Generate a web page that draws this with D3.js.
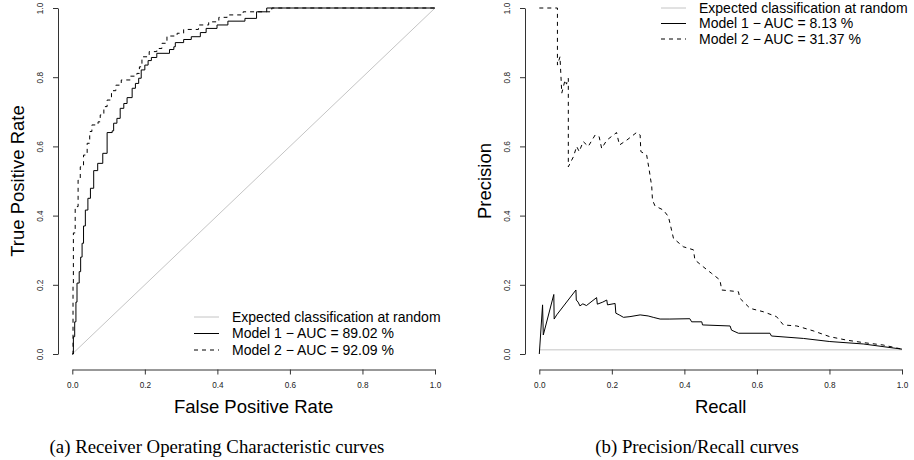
<!DOCTYPE html>
<html><head><meta charset="utf-8">
<script src="https://cdn.jsdelivr.net/npm/d3@7"></script>
<style>body{margin:0;background:#fff} svg{display:block} text{font-family:"Liberation Sans",Arial,Helvetica,sans-serif}</style>
</head><body><svg id="c" width="914" height="460"></svg>
<script>
// ---------- data ----------
const tickValues = [0, 0.2, 0.4, 0.6, 0.8, 1.0];

// ROC, Model 1 (false positive rate, true positive rate)
const rocFpr1 = [0,0.003,0.0066,0.010,0.013,0.019,0.023,0.027,0.031,0.036,0.043,0.05,0.059,0.07,0.084,0.096,0.110,0.114,0.123,0.132,0.142,0.151,0.165,0.174,0.183,0.19,0.2,0.209,0.218,0.233,0.268,0.28,0.284,0.307,0.328,0.353,0.369,0.399,0.429,0.476,0.508,0.536,1];
const rocTpr1 = [0,0.05,0.093,0.15,0.205,0.238,0.28,0.32,0.37,0.416,0.45,0.479,0.53,0.551,0.58,0.64,0.645,0.667,0.681,0.71,0.724,0.741,0.768,0.782,0.797,0.821,0.835,0.848,0.857,0.869,0.88,0.888,0.9,0.909,0.917,0.929,0.941,0.951,0.962,0.97,0.989,1.0,1];
// ROC, Model 2
const rocFpr2 = [0,0.002,0.003,0.008,0.016,0.022,0.031,0.041,0.048,0.054,0.071,0.077,0.087,0.096,0.108,0.12,0.135,0.16,0.178,0.185,0.192,0.212,0.233,0.247,0.261,0.289,0.307,0.348,0.376,0.404,0.427,0.471,0.545,0.55,1];
const rocTpr2 = [0,0.2,0.35,0.426,0.503,0.541,0.575,0.609,0.643,0.662,0.671,0.691,0.715,0.734,0.761,0.777,0.792,0.803,0.811,0.83,0.859,0.874,0.883,0.898,0.919,0.927,0.938,0.951,0.96,0.973,0.98,0.989,0.994,1,1];

// Precision/Recall, Model 1 (recall, precision)
const prRec1 = [0,0.009,0.011,0.04,0.041,0.048,0.101,0.102,0.107,0.112,0.12,0.13,0.158,0.16,0.175,0.186,0.188,0.209,0.211,0.222,0.232,0.25,0.278,0.3,0.314,0.333,0.36,0.415,0.42,0.448,0.45,0.526,0.53,0.549,0.636,0.64,0.728,0.801,0.893,1];
const prPrec1 = [0,0.142,0.055,0.172,0.101,0.113,0.185,0.156,0.150,0.139,0.145,0.14,0.163,0.144,0.15,0.156,0.142,0.146,0.118,0.112,0.106,0.108,0.113,0.11,0.106,0.101,0.101,0.102,0.093,0.093,0.084,0.081,0.069,0.06,0.06,0.052,0.045,0.036,0.029,0.014];
// Precision/Recall, Model 2
const prRec2 = [0,0.05,0.05,0.057,0.062,0.071,0.075,0.08,0.08,0.094,0.103,0.11,0.121,0.135,0.154,0.165,0.172,0.186,0.213,0.221,0.241,0.268,0.278,0.28,0.296,0.303,0.31,0.312,0.319,0.342,0.356,0.37,0.397,0.425,0.429,0.452,0.475,0.498,0.503,0.549,0.553,0.581,0.618,0.654,0.673,0.71,0.755,0.801,0.848,0.893,0.948,1];
const prPrec2 = [1,1,0.835,0.859,0.754,0.792,0.78,0.797,0.541,0.57,0.6,0.585,0.614,0.6,0.633,0.628,0.594,0.618,0.64,0.604,0.618,0.64,0.633,0.585,0.575,0.532,0.484,0.445,0.428,0.416,0.397,0.334,0.31,0.301,0.272,0.252,0.233,0.214,0.185,0.18,0.161,0.132,0.122,0.108,0.084,0.081,0.067,0.05,0.04,0.033,0.026,0.014];
const prRandom = 0.012;

const rocLegend = ["Expected classification at random", "Model 1 \u2212 AUC = 89.02 %", "Model 2 \u2212 AUC = 92.09 %"];
const prLegend  = ["Expected classification at random", "Model 1 \u2212 AUC = 8.13 %", "Model 2 \u2212 AUC = 31.37 %"];
const captions = ["(a) Receiver Operating Characteristic curves", "(b) Precision/Recall curves"];
const axisTitles = [["False Positive Rate", "True Positive Rate"], ["Recall", "Precision"]];

// ---------- drawing ----------
const svg = d3.select("#c");
const zip = (a, b) => a.map((v, i) => [v, b[i]]);
const GRAY = "#c4c4c4";

function panel(cfg) {
  const x = d3.scaleLinear().domain([0, 1]).range([cfg.x0, cfg.x1]);
  const y = d3.scaleLinear().domain([0, 1]).range([354, 8]);
  const g = svg.append("g");

  // x axis
  const gx = g.append("g").attr("transform", `translate(0,369.5)`)
    .call(d3.axisBottom(x).tickValues(tickValues).tickSize(5).tickSizeOuter(0).tickFormat(d3.format(".1f")));
  gx.selectAll("text").attr("font-size", 8.2).attr("y", 13).attr("dy", "0.71em").attr("fill", "#222");
  // y axis
  const gy = g.append("g").attr("transform", `translate(${cfg.ax},0)`)
    .call(d3.axisLeft(y).tickValues(tickValues).tickSize(5).tickSizeOuter(0).tickFormat(d3.format(".1f")));
  gy.selectAll("text").attr("font-size", 8.2).attr("transform", "rotate(-90)")
    .attr("x", 0).attr("y", -15).attr("dy", 0).attr("text-anchor", "middle").attr("fill", "#222");
  g.selectAll(".domain, .tick line").attr("stroke", "#333").attr("stroke-width", 1);

  // titles
  g.append("text").attr("x", (cfg.x0 + cfg.x1) / 2).attr("y", 413).attr("text-anchor", "middle")
    .attr("font-size", 18.5).text(cfg.titles[0]);
  g.append("text").attr("transform", `translate(${cfg.ax - 34},181) rotate(-90)`).attr("text-anchor", "middle")
    .attr("font-size", 18.5).text(cfg.titles[1]);
  svg.append("text").attr("x", cfg.capX).attr("y", 453).attr("text-anchor", "middle")
    .style("font-family", "'Liberation Serif','Times New Roman',serif")
    .attr("font-size", 18.8).text(cfg.caption);

  // random line
  g.append("path").attr("fill", "none").attr("stroke", GRAY).attr("stroke-width", 1)
    .attr("d", d3.line().x(d => x(d[0])).y(d => y(d[1]))(cfg.random));
  // curves
  const line = d3.line().x(d => x(d[0])).y(d => y(d[1])).curve(cfg.curve);
  g.append("path").attr("fill", "none").attr("stroke", "#000").attr("stroke-width", 1)
    .attr("d", line(cfg.s1));
  g.append("path").attr("fill", "none").attr("stroke", "#000").attr("stroke-width", 1)
    .attr("stroke-dasharray", "4,4").attr("d", line(cfg.s2));

  // legend
  const lg = g.append("g").attr("transform", `translate(${cfg.lx},${cfg.ly})`);
  const styles = [{s: GRAY, d: null}, {s: "#000", d: null}, {s: "#000", d: "4,4"}];
  cfg.legend.forEach((t, i) => {
    const yy = i * cfg.lsp;
    lg.append("line").attr("x1", 0).attr("x2", 25).attr("y1", yy).attr("y2", yy)
      .attr("stroke", styles[i].s).attr("stroke-width", 1).attr("stroke-dasharray", styles[i].d);
    lg.append("text").attr("x", 38).attr("y", yy).attr("dy", "0.35em").attr("font-size", 14).text(t);
  });
}

panel({
  x0: 72.3, x1: 435, ax: 58, titles: axisTitles[0], caption: captions[0], capX: 217,
  random: [[0, 0], [1, 1]], curve: d3.curveStepAfter,
  s1: zip(rocFpr1, rocTpr1), s2: zip(rocFpr2, rocTpr2),
  legend: rocLegend, lx: 194, ly: 317, lsp: 16.5
});
panel({
  x0: 539.3, x1: 902, ax: 525, titles: axisTitles[1], caption: captions[1], capX: 697,
  random: [[0, prRandom], [1, prRandom]], curve: d3.curveLinear,
  s1: zip(prRec1, prPrec1), s2: zip(prRec2, prPrec2),
  legend: prLegend, lx: 661, ly: 8, lsp: 15.5
});
</script></body></html>
